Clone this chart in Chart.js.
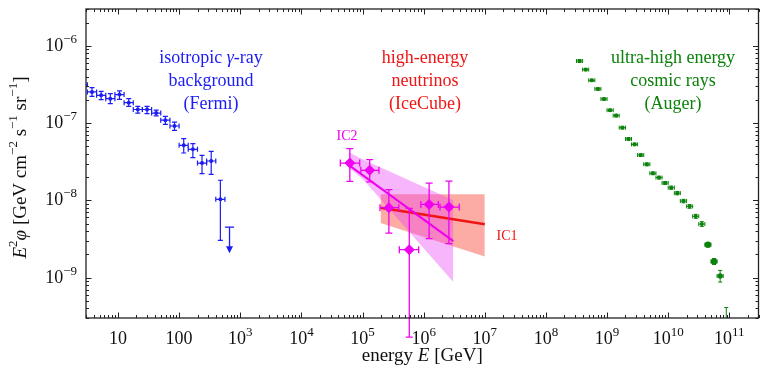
<!DOCTYPE html>
<html>
<head>
<meta charset="utf-8">
<script src="https://cdn.jsdelivr.net/npm/chart.js@4.4.1/dist/chart.umd.min.js"></script>
<style>
  html, body { margin: 0; padding: 0; background: #fff; }
  canvas { display: block; }
</style>
</head>
<body>
<canvas id="spectrum" width="764" height="371"></canvas>
<script>
// Ejes
const xTickValues = [10, 100, 1e3, 1e4, 1e5, 1e6, 1e7, 1e8, 1e9, 1e10, 1e11];
const xTickLabels = ['10', '100', '10^3', '10^4', '10^5', '10^6', '10^7', '10^8', '10^9', '10^10', '10^11'];
const yTickValues = [1e-6, 1e-7, 1e-8, 1e-9];
const yTickLabels = ['10^−6', '10^−7', '10^−8', '10^−9'];
const xRange = [3, 3e11];
const yRange = [3e-10, 3e-6];

// Fermi (fondo isotropico de rayos gamma)
const fermiE = [2.66, 3.76, 5.31, 7.50, 10.6, 15.0, 21.1, 29.9, 42.2, 59.6, 84.1, 119, 168, 237, 335, 473];
const fermiEdges = [2.24, 3.16, 4.47, 6.31, 8.91, 12.6, 17.8, 25.1, 35.5, 50.1, 70.8, 100, 141, 200, 282, 398, 562];
const fermiFlux = [3.13e-7, 2.53e-7, 2.29e-7, 2.07e-7, 2.34e-7, 1.84e-7, 1.50e-7, 1.50e-7, 1.35e-7, 1.09e-7, 9.17e-8, 5.16e-8, 4.58e-8, 3.04e-8, 3.23e-8, 1.03e-8];
const fermiLo = [2.8e-7, 2.22e-7, 2.01e-7, 1.79e-7, 2.03e-7, 1.65e-7, 1.35e-7, 1.33e-7, 1.24e-7, 9.64e-8, 8.07e-8, 4.10e-8, 3.57e-8, 2.22e-8, 2.17e-8, 3.03e-9];
const fermiHi = [3.5e-7, 2.88e-7, 2.58e-7, 2.41e-7, 2.61e-7, 2.07e-7, 1.65e-7, 1.65e-7, 1.47e-7, 1.22e-7, 1.03e-7, 6.30e-8, 5.43e-8, 3.83e-8, 4.31e-8, 1.82e-8];
const fermiULE = 668;
const fermiULEdges = [562, 794];
const fermiUL = 4.5e-9;

// IceCube IC2 (puntos, ajuste y banda)
const ic2E = [6.2e4, 1.31e5, 2.70e5, 5.82e5, 1.23e6, 2.59e6];
const ic2ELo = [4.34e4, 9.4e4, 1.93e5, 4.0e5, 9.0e5, 1.85e6];
const ic2EHi = [9.0e4, 1.86e5, 3.92e5, 8.3e5, 1.74e6, 3.82e6];
const ic2Flux = [3.04e-8, 2.45e-8, 8.04e-9, 2.30e-9, 8.87e-9, 8.18e-9];
const ic2Lo = [1.76e-8, 1.73e-8, 3.77e-9, 1.7e-10, 3.19e-9, 2.75e-9];
const ic2Hi = [4.67e-8, 3.37e-8, 1.38e-8, 7.87e-9, 1.67e-8, 1.77e-8];
const ic2FitE = [6.07e4, 3.06e6];
const ic2Fit = [2.84e-8, 2.97e-9];
const ic2BandE = [6.07e4, 1.0e5, 3.06e6];
const ic2BandHi = [4.15e-8, 3.4e-8, 1.0e-8];
const ic2BandLo = [2.6e-8, 1.9e-8, 8.75e-10];

// IceCube IC1 (ajuste y banda)
const ic1E = [1.97e5, 1e7];
const ic1Fit = [8.04e-9, 4.89e-9];
const ic1BandHi = [1.2e-8, 1.2e-8];
const ic1BandLo = [5.08e-9, 1.88e-9];

// Auger (rayos cosmicos de ultra alta energia)
const augerE = [3.55e8, 4.47e8, 5.62e8, 7.08e8, 8.91e8, 1.12e9, 1.41e9, 1.78e9, 2.24e9, 2.82e9, 3.55e9, 4.47e9, 5.62e9, 7.08e9, 8.91e9, 1.12e10, 1.41e10, 1.78e10, 2.24e10, 2.82e10, 3.55e10, 4.47e10, 5.62e10, 7.08e10, 8.91e10];
const augerEdges = [3.16e8, 3.98e8, 5.01e8, 6.31e8, 7.94e8, 1e9, 1.26e9, 1.58e9, 2e9, 2.51e9, 3.16e9, 3.98e9, 5.01e9, 6.31e9, 7.94e9, 1e10, 1.26e10, 1.58e10, 2e10, 2.51e10, 3.16e10, 3.98e10, 5.01e10, 6.31e10, 7.94e10, 1e11];
const augerFlux = [6.37e-7, 4.93e-7, 3.58e-7, 2.77e-7, 2.05e-7, 1.47e-7, 1.25e-7, 8.74e-8, 6.23e-8, 5.31e-8, 3.86e-8, 2.93e-8, 2.24e-8, 1.97e-8, 1.68e-8, 1.46e-8, 1.24e-8, 9.79e-9, 8.36e-9, 6.21e-9, 4.93e-9, 2.67e-9, 1.62e-9, 1.05e-9, 2e-10];
const augerLo = [6.1e-7, 4.75e-7, 3.45e-7, 2.67e-7, 1.98e-7, 1.42e-7, 1.2e-7, 8.4e-8, 6.0e-8, 5.1e-8, 3.7e-8, 2.8e-8, 2.15e-8, 1.89e-8, 1.61e-8, 1.39e-8, 1.18e-8, 9.3e-9, 7.9e-9, 5.85e-9, 4.6e-9, 2.5e-9, 1.48e-9, 8.75e-10, 1e-11];
const augerHi = [6.65e-7, 5.1e-7, 3.7e-7, 2.87e-7, 2.12e-7, 1.52e-7, 1.3e-7, 9.1e-8, 6.5e-8, 5.5e-8, 4.0e-8, 3.05e-8, 2.33e-8, 2.05e-8, 1.75e-8, 1.53e-8, 1.3e-8, 1.03e-8, 8.8e-9, 6.6e-9, 5.3e-9, 2.85e-9, 1.77e-9, 1.24e-9, 4.1e-10];

const BLUE = '#1c1cf5';
const RED = '#f01414';
const MAGENTA = '#f000f0';
const GREEN = '#0b820b';
const FONT = '"Liberation Serif", "DejaVu Serif", serif';

function pts(xs, ys) {
    return xs.map((v, i) => ({ x: v, y: ys[i] }));
}

// Dibuja texto con partes en cursiva y superindices
function drawRich(ctx, parts, x, y, align, size) {
    const fonts = {
        '': size + 'px ' + FONT,
        i: 'italic ' + size + 'px ' + FONT,
        s: Math.round(size * 0.7) + 'px ' + FONT
    };
    let w = 0;
    parts.forEach(p => { ctx.font = fonts[p[1]]; w += ctx.measureText(p[0]).width; });
    let cx = align === 'center' ? x - w / 2 : (align === 'right' ? x - w : x);
    ctx.textAlign = 'left';
    ctx.textBaseline = 'alphabetic';
    parts.forEach(p => {
        ctx.font = fonts[p[1]];
        ctx.fillText(p[0], cx, p[1] === 's' ? y - size * 0.45 : y);
        cx += ctx.measureText(p[0]).width;
    });
}

function splitSup(label) {
    const i = label.indexOf('^');
    return i < 0 ? [[label, '']] : [[label.slice(0, i), ''], [label.slice(i + 1), 's']];
}

// Barras de error (antes de dibujar los marcadores)
const errorBars = {
    id: 'errorBars',
    beforeDatasetDraw(chart, args) {
        const ds = chart.data.datasets[args.index];
        const e = ds.errorBars;
        if (!e) return;
        const { ctx, chartArea: a, scales: { x, y } } = chart;
        ctx.save();
        ctx.beginPath();
        ctx.rect(a.left, a.top, a.right - a.left, e.clip ? a.bottom - a.top : chart.height - a.top);
        ctx.clip();
        ctx.strokeStyle = e.color;
        ctx.lineWidth = e.width;
        ds.data.forEach((p, i) => {
            const px = x.getPixelForValue(p.x), py = y.getPixelForValue(p.y);
            const x0 = x.getPixelForValue(e.xLo[i]), x1 = x.getPixelForValue(e.xHi[i]);
            const y0 = y.getPixelForValue(e.yLo[i]), y1 = y.getPixelForValue(e.yHi[i]);
            ctx.beginPath();
            ctx.moveTo(x0, py); ctx.lineTo(x1, py);
            ctx.moveTo(x0, py - e.cap); ctx.lineTo(x0, py + e.cap);
            ctx.moveTo(x1, py - e.cap); ctx.lineTo(x1, py + e.cap);
            ctx.moveTo(px, y0); ctx.lineTo(px, y1);
            ctx.moveTo(px - e.cap, y1); ctx.lineTo(px + e.cap, y1);
            ctx.moveTo(px - e.cap, y0); ctx.lineTo(px + e.cap, y0);
            ctx.stroke();
        });
        ctx.restore();
    }
};

// Limite superior de Fermi con flecha
const upperLimit = {
    id: 'upperLimit',
    afterDatasetsDraw(chart) {
        const { ctx, scales: { x, y } } = chart;
        const px = x.getPixelForValue(fermiULE);
        const py = y.getPixelForValue(fermiUL);
        ctx.save();
        ctx.strokeStyle = BLUE;
        ctx.fillStyle = BLUE;
        ctx.lineWidth = 1.3;
        ctx.beginPath();
        ctx.moveTo(x.getPixelForValue(fermiULEdges[0]), py);
        ctx.lineTo(x.getPixelForValue(fermiULEdges[1]), py);
        ctx.moveTo(px, py);
        ctx.lineTo(px, py + 20);
        ctx.stroke();
        ctx.beginPath();
        ctx.moveTo(px - 3.5, py + 19);
        ctx.lineTo(px + 3.5, py + 19);
        ctx.lineTo(px, py + 26);
        ctx.closePath();
        ctx.fill();
        ctx.restore();
    }
};

function logTicks(min, max) {
    const list = [];
    for (let e = Math.floor(Math.log10(min)); e <= Math.ceil(Math.log10(max)); e++) {
        for (let m = 1; m < 10; m++) {
            const v = m * Math.pow(10, e);
            if (v >= min * 0.999 && v <= max * 1.001) list.push({ v: v, major: m === 1 });
        }
    }
    return list;
}

// Marco, marcas hacia dentro y textos
const frameAndText = {
    id: 'frameAndText',
    afterDraw(chart) {
        const { ctx, chartArea: a, scales: { x, y } } = chart;
        ctx.save();
        ctx.strokeStyle = '#222';
        ctx.lineWidth = 1;
        ctx.beginPath();
        logTicks(xRange[0], xRange[1]).forEach(t => {
            const px = Math.round(x.getPixelForValue(t.v)) + 0.5;
            const len = t.major ? 5.5 : 3;
            ctx.moveTo(px, a.bottom); ctx.lineTo(px, a.bottom - len);
            ctx.moveTo(px, a.top); ctx.lineTo(px, a.top + len);
        });
        logTicks(yRange[0], yRange[1]).forEach(t => {
            const py = Math.round(y.getPixelForValue(t.v)) + 0.5;
            const len = t.major ? 5.5 : 3;
            ctx.moveTo(a.left, py); ctx.lineTo(a.left + len, py);
            ctx.moveTo(a.right, py); ctx.lineTo(a.right - len, py);
        });
        ctx.stroke();
        ctx.lineWidth = 1.3;
        ctx.strokeRect(a.left, a.top, a.right - a.left, a.bottom - a.top);

        ctx.fillStyle = '#111';
        xTickValues.forEach((v, i) => {
            drawRich(ctx, splitSup(xTickLabels[i]), x.getPixelForValue(v), a.bottom + 26, 'center', 18);
        });
        yTickValues.forEach((v, i) => {
            drawRich(ctx, splitSup(yTickLabels[i]), a.left - 9, y.getPixelForValue(v) + 5, 'right', 18);
        });

        // Titulos de ejes
        drawRich(ctx, [['energy ', ''], ['E', 'i'], [' [GeV]', '']], (a.left + a.right) / 2, a.bottom + 43, 'center', 19);
        ctx.save();
        ctx.translate(26, (a.top + a.bottom) / 2 + 4);
        ctx.rotate(-Math.PI / 2);
        drawRich(ctx, [['E', 'i'], ['2', 's'], ['φ', 'i'], [' [GeV cm', ''], ['−2', 's'], [' s', ''], ['−1', 's'], [' sr', ''], ['−1', 's'], [']', '']], 0, 0, 'center', 19);
        ctx.restore();

        // Etiquetas de las fuentes
        ctx.fillStyle = BLUE;
        drawRich(ctx, [['isotropic ', ''], ['γ', 'i'], ['-ray', '']], 211, 63, 'center', 18);
        drawRich(ctx, [['background', '']], 211, 86, 'center', 18);
        drawRich(ctx, [['(Fermi)', '']], 211, 109, 'center', 18);
        ctx.fillStyle = RED;
        drawRich(ctx, [['high-energy', '']], 425, 63, 'center', 18);
        drawRich(ctx, [['neutrinos', '']], 425, 86, 'center', 18);
        drawRich(ctx, [['(IceCube)', '']], 425, 109, 'center', 18);
        drawRich(ctx, [['IC1', '']], 507, 240, 'center', 14);
        ctx.fillStyle = MAGENTA;
        drawRich(ctx, [['IC2', '']], 347, 140, 'center', 14);
        ctx.fillStyle = GREEN;
        drawRich(ctx, [['ultra-high energy', '']], 673, 63, 'center', 18);
        drawRich(ctx, [['cosmic rays', '']], 673, 86, 'center', 18);
        drawRich(ctx, [['(Auger)', '']], 673, 109, 'center', 18);
        ctx.restore();
    }
};

const ctx = document.getElementById('spectrum').getContext('2d');
new Chart(ctx, {
    type: 'scatter',
    data: {
        datasets: [{
            // IC2 puntos
            data: pts(ic2E, ic2Flux),
            pointStyle: 'rectRot',
            pointRadius: 5.5,
            pointBackgroundColor: MAGENTA,
            pointBorderWidth: 0,
            clip: 0,
            errorBars: { xLo: ic2ELo, xHi: ic2EHi, yLo: ic2Lo, yHi: ic2Hi, color: MAGENTA, width: 1.3, cap: 3.5, clip: false }
        }, {
            // Fermi
            data: pts(fermiE, fermiFlux),
            pointRadius: 2,
            pointBackgroundColor: BLUE,
            pointBorderWidth: 0,
            clip: 0,
            errorBars: { xLo: fermiEdges.slice(0, -1), xHi: fermiEdges.slice(1), yLo: fermiLo, yHi: fermiHi, color: BLUE, width: 1.2, cap: 2.5, clip: true }
        }, {
            // Auger
            data: pts(augerE, augerFlux),
            pointRadius: c => (c.dataIndex === 21 || c.dataIndex === 22) ? 3.2 : (c.dataIndex === 23 ? 2.6 : 2),
            pointBackgroundColor: GREEN,
            pointBorderWidth: 0,
            clip: 0,
            errorBars: { xLo: augerEdges.slice(0, -1), xHi: augerEdges.slice(1), yLo: augerLo, yHi: augerHi, color: GREEN, width: 1, cap: 2, clip: true }
        }, {
            // IC2 ajuste
            type: 'line',
            data: pts(ic2FitE, ic2Fit),
            borderColor: MAGENTA,
            borderWidth: 2,
            pointRadius: 0,
            fill: false
        }, {
            // IC1 ajuste
            type: 'line',
            data: pts(ic1E, ic1Fit),
            borderColor: RED,
            borderWidth: 2.5,
            pointRadius: 0,
            fill: false
        }, {
            // IC2 banda
            type: 'line',
            data: pts(ic2BandE, ic2BandHi),
            borderWidth: 0,
            pointRadius: 0,
            backgroundColor: 'rgba(235, 60, 245, 0.38)',
            fill: '+1'
        }, {
            type: 'line',
            data: pts(ic2BandE, ic2BandLo),
            borderWidth: 0,
            pointRadius: 0,
            fill: false
        }, {
            // IC1 banda
            type: 'line',
            data: pts(ic1E, ic1BandHi),
            borderWidth: 0,
            pointRadius: 0,
            backgroundColor: 'rgba(250, 70, 55, 0.45)',
            fill: '+1'
        }, {
            type: 'line',
            data: pts(ic1E, ic1BandLo),
            borderWidth: 0,
            pointRadius: 0,
            fill: false
        }]
    },
    options: {
        responsive: false,
        animation: false,
        layout: { padding: { left: 86, right: 1, top: 9, bottom: 53 } },
        plugins: {
            legend: { display: false },
            tooltip: { enabled: false }
        },
        scales: {
            x: { type: 'logarithmic', min: xRange[0], max: xRange[1], display: false },
            y: { type: 'logarithmic', min: yRange[0], max: yRange[1], display: false }
        }
    },
    plugins: [errorBars, upperLimit, frameAndText]
});
</script>
</body>
</html>
